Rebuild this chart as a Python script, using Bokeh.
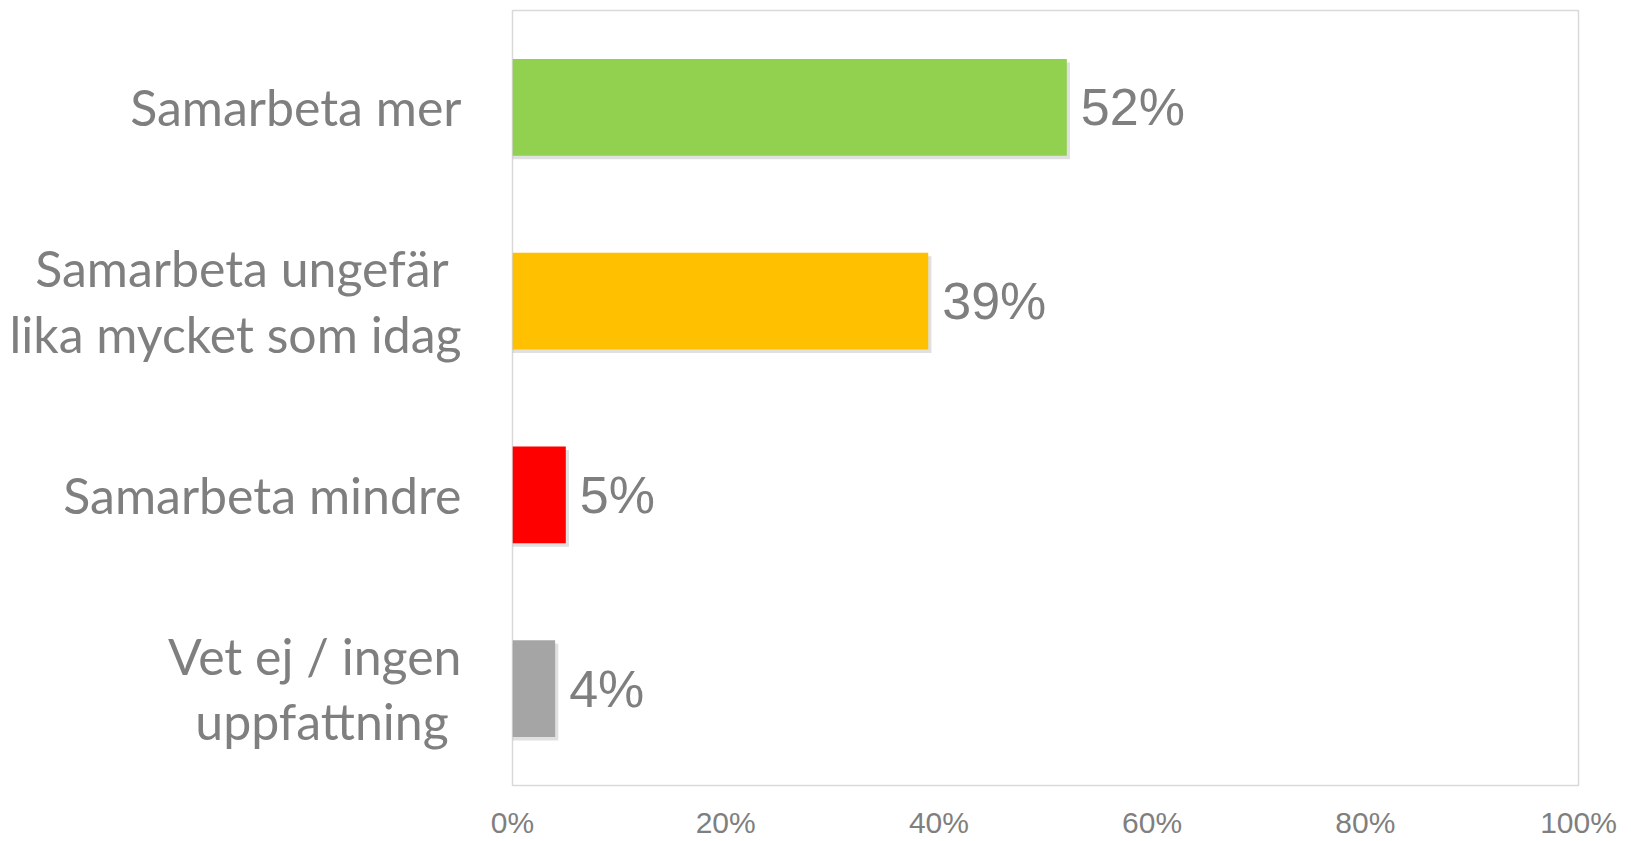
from bokeh.plotting import figure
from bokeh.models import ColumnDataSource, FactorRange, PrintfTickFormatter, FixedTicker
from bokeh.transform import dodge
from bokeh.core.properties import value
from bokeh.embed import file_html
from bokeh.resources import INLINE

categories = ["Samarbeta mer", "Samarbeta ungefär \nlika mycket som idag", "Samarbeta mindre", "Vet ej / ingen\nuppfattning "]
values = [52, 39, 5, 4]
labels = ["52%", "39%", "5%", "4%"]
colors = ["#92d050", "#ffc000", "#ff0000", "#a5a5a5"]
x_ticks = [0, 20, 40, 60, 80, 100]

src = ColumnDataSource(dict(
    cat=categories, val=values, lab=labels, col=colors,
    shadow=[v + 0.3 for v in values],
))

p = figure(width=1623, height=841, output_backend="svg", toolbar_location=None,
           y_range=FactorRange(factors=list(reversed(categories)), range_padding=0),
           x_range=(0, 100),
           min_border_left=512, min_border_right=45, min_border_top=10, min_border_bottom=53)

p.hbar(y=dodge("cat", -0.018, range=p.y_range), left=0, right="shadow", height=0.5,
       source=src, fill_color="black", fill_alpha=0.12, line_color=None)
p.hbar(y="cat", left=0, right="val", height=0.5, source=src, fill_color="col", line_color=None)
p.text(x="val", y="cat", text="lab", source=src, x_offset=14, text_baseline="middle",
       text_align="left", text_font=value("Liberation Sans"), text_font_size="52px",
       text_color="#7f7f7f")

p.outline_line_color = "#d9d9d9"
p.outline_line_width = 1.5
p.xgrid.visible = False
p.ygrid.visible = False

xa = p.xaxis[0]
xa.ticker = FixedTicker(ticks=x_ticks)
xa.formatter = PrintfTickFormatter(format="%d%%")
xa.axis_line_color = None
xa.major_tick_line_color = None
xa.minor_tick_line_color = None
xa.major_tick_out = 0
xa.major_tick_in = 0
xa.major_label_standoff = 20
xa.major_label_text_font = "Liberation Sans"
xa.major_label_text_font_size = "30px"
xa.major_label_text_color = "#7f7f7f"

ya = p.yaxis[0]
ya.axis_line_color = None
ya.major_tick_line_color = None
ya.minor_tick_line_color = None
ya.major_tick_out = 0
ya.major_tick_in = 0
ya.major_label_standoff = 51
ya.major_label_text_font = "Lato"
ya.major_label_text_font_size = "50px"
ya.major_label_text_color = "#7f7f7f"
ya.major_label_text_line_height = 1.09

open("out.html", "w").write(file_html(p, INLINE))
